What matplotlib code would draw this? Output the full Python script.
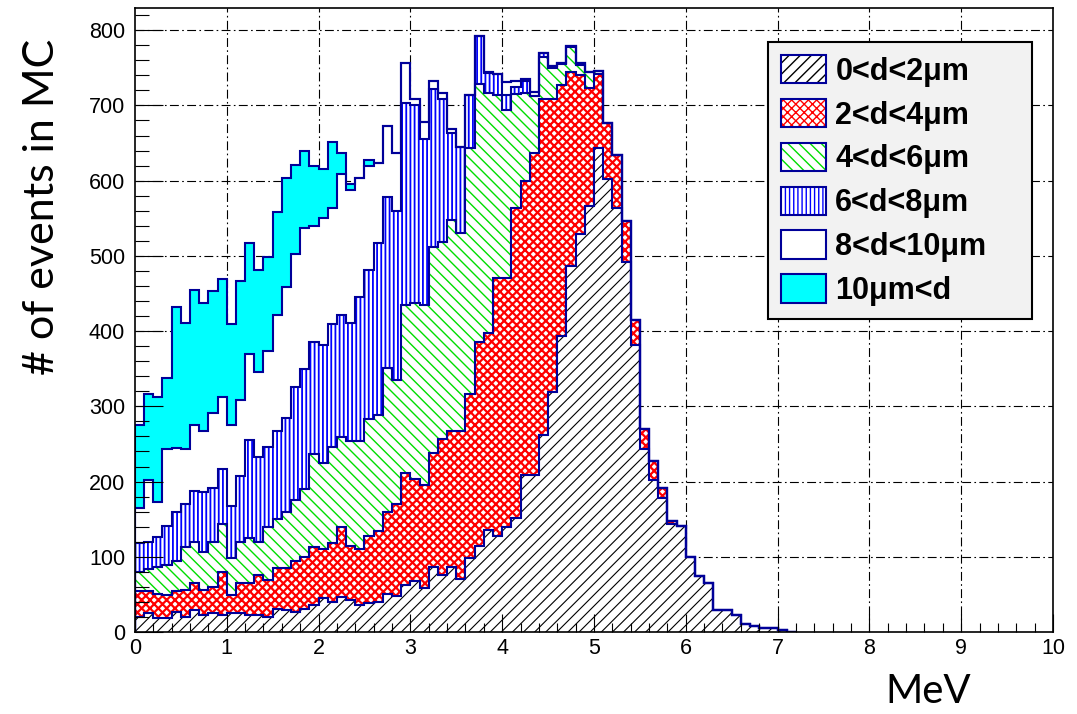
import numpy as np
import matplotlib as mpl
import matplotlib.pyplot as plt
from matplotlib.patches import Patch

# deposited energy, 0.1 MeV bins starting at 0
bin_width = 0.1

# stacked totals per bin, lowest diameter class first.
# a class with no entries past some bin keeps the level of the one below it
stack_0_2 = [20, 25, 18, 18, 27, 20, 29, 23, 25, 23,
             25, 25, 23, 23, 20, 31, 29, 27, 31, 36,
             45, 40, 47, 42, 36, 38, 40, 50, 48, 62,
             68, 58, 86, 76, 86, 71, 99, 115, 136, 128,
             140, 152, 209, 209, 262, 319, 393, 487, 529, 566,
             644, 602, 563, 492, 382, 243, 202, 178, 144, 141,
             100, 74, 65, 29, 29, 23, 11, 8, 5, 5, 3, 0]
stack_2_4 = [54, 54, 51, 49, 54, 56, 65, 56, 60, 80,
             49, 65, 65, 76, 69, 85, 85, 95, 100, 113,
             110, 118, 139, 115, 110, 128, 134, 160, 170, 212,
             204, 196, 238, 257, 267, 267, 317, 385, 398, 470,
             470, 563, 599, 637, 709, 709, 727, 745, 740, 723,
             742, 676, 634, 547, 415, 270, 228, 191, 147]
stack_4_6 = [80, 84, 86, 89, 95, 113, 120, 107, 120, 144,
             99, 120, 125, 120, 140, 150, 160, 175, 190, 236,
             225, 246, 259, 254, 254, 283, 288, 351, 335, 435,
             437, 435, 512, 519, 548, 531, 643, 729, 716, 714,
             694, 715, 717, 713, 765, 750, 755, 777, 754, 745,
             746]
stack_6_8 = [118, 120, 126, 141, 160, 170, 188, 186, 191, 217,
             168, 207, 255, 233, 246, 267, 285, 326, 350, 385,
             381, 409, 421, 411, 446, 481, 517, 578, 559, 703,
             700, 655, 722, 709, 663, 645, 714, 792, 743, 742,
             714, 725, 733, 713, 770, 753, 757, 779, 756, 745,
             746]
stack_8_10 = [165, 202, 173, 243, 245, 243, 275, 267, 291, 312,
              275, 308, 369, 346, 374, 421, 458, 503, 537, 540,
              550, 563, 609, 587, 604, 619, 623, 672, 637, 756,
              708, 678, 733, 716, 668, 645, 714, 792, 745, 742,
              731, 733, 735, 718, 770, 753, 757, 779, 756, 745,
              746]
stack_10_up = [275, 317, 312, 338, 432, 411, 455, 437, 453, 469,
               409, 466, 517, 481, 498, 558, 603, 621, 639, 619,
               616, 652, 637, 596, 604, 628, 623, 672, 637, 756]

labels = ['0<d<2\u03bcm', '2<d<4\u03bcm', '4<d<6\u03bcm',
          '6<d<8\u03bcm', '8<d<10\u03bcm', '10\u03bcm<d']

# (face, hatch, hatch colour, hatch width)
styles = [('white', '///', 'black', 0.8),
          ('white', 'xxxx', '#ff0000', 1.6),
          ('white', '\\\\\\', '#00dd00', 1.0),
          ('white', '||||', '#0000ff', 1.3),
          ('white', None, 'none', 1.0),
          ('#00ffff', None, 'none', 1.0)]
line_col = '#000099'

# complete the stacked levels
levels = []
for vals in [stack_0_2, stack_2_4, stack_4_6, stack_6_8, stack_8_10, stack_10_up]:
    vals = np.array(vals, dtype=float)
    if levels and len(vals) < len(levels[-1]):
        vals = np.concatenate([vals, levels[-1][len(vals):]])
    levels.append(vals)
edges = np.arange(len(levels[0]) + 1) * bin_width


def hatched(make, style):
    face, hatch, hcol, hlw = style
    with mpl.rc_context({'hatch.linewidth': hlw}):
        p = make(face, hatch, hcol)
    if hasattr(p, 'set_hatch_linewidth'):
        p.set_hatch_linewidth(hlw)
    return p


fig = plt.figure(figsize=(10.77, 7.14), dpi=100)
ax = fig.add_axes([0.1253, 0.1148, 0.8524, 0.874])

# ROOT-like stack: largest total first, each lower class painted over it
for vals, st in reversed(list(zip(levels, styles))):
    hatched(lambda f, h, c: ax.stairs(vals, edges, baseline=0, fill=True,
                                      facecolor=f, hatch=h, edgecolor=c,
                                      linewidth=0, zorder=1), st)
    ax.stairs(vals, edges, baseline=0, color=line_col, linewidth=1.5, zorder=1.6)

ax.set_xlim(0, 10)
ax.set_ylim(0, 829.5)
ax.set_xticks(np.arange(0, 11, 1))
ax.set_xticks(np.arange(0, 10.01, 0.2), minor=True)
ax.set_yticks(np.arange(0, 801, 100))
ax.set_yticks(np.arange(0, 821, 20), minor=True)

grid_style = dict(color='black', linewidth=0.8, linestyle=(0, (8, 3, 1.5, 3)), zorder=0.5)
for x in range(1, 10):
    ax.axvline(x, **grid_style)
for y in range(100, 801, 100):
    ax.axhline(y, **grid_style)

ax.set_axisbelow(False)
ax.tick_params(axis='x', which='major', direction='in', length=13, width=0.8, pad=4,
               labelsize=15.5, top=False)
ax.tick_params(axis='x', which='minor', direction='in', length=6.5, width=0.8, top=False)
ax.tick_params(axis='y', which='major', direction='in', length=20, width=0.8, pad=7,
               labelsize=15.5, right=False)
ax.tick_params(axis='y', which='minor', direction='in', length=10, width=0.8, right=False)
for lab in ax.get_xticklabels() + ax.get_yticklabels():
    lab.set_family('Liberation Sans')
for sp in ax.spines.values():
    sp.set_linewidth(1.2)

# legend entries: hatch patch under a navy frame
handles = []
for st in styles:
    fill = hatched(lambda f, h, c: Patch(facecolor=f, hatch=h, edgecolor=c, linewidth=0), st)
    frame = Patch(facecolor='none', edgecolor=line_col, linewidth=1.5)
    handles.append((fill, frame))
leg = ax.legend(handles, labels, loc='upper left', bbox_to_anchor=(0.690, 0.945, 0.287, 0.0),
                mode='expand', borderaxespad=0, fancybox=False, framealpha=1,
                facecolor='#f2f2f2', edgecolor='black', handlelength=1.45, handleheight=1.05,
                handletextpad=0.32, labelspacing=0.4, borderpad=0.42,
                prop={'family': 'Liberation Sans', 'weight': 'bold', 'size': 22})
leg.get_frame().set_linewidth(1.5)

fig.text(0.039, 0.71, '# of events in MC', rotation=90, fontsize=31, family='Lato',
         ha='center', va='center')
fig.text(0.862, 0.031, 'MeV', fontsize=29, family='Lato', ha='center', va='center')

fig.savefig('out.png', dpi=100)
